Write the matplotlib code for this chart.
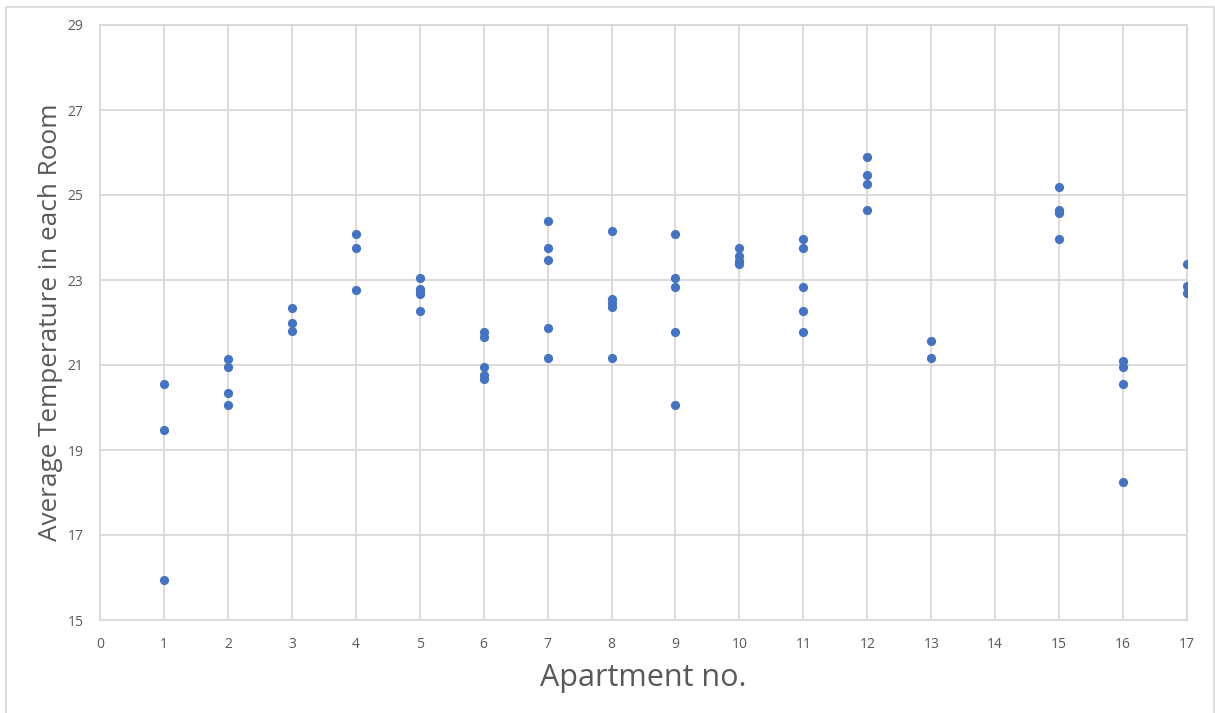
import matplotlib
matplotlib.use("Agg")
import matplotlib.pyplot as plt
from matplotlib.patches import Rectangle

# Data: apartment number -> average room temperatures
apt_1 = [20.55, 19.47, 15.95]
apt_2 = [21.15, 20.95, 20.35, 20.05]
apt_3 = [22.35, 22.0, 21.8]
apt_4 = [24.08, 23.75, 22.76]
apt_5 = [23.05, 22.78, 22.72, 22.68, 22.27]
apt_6 = [21.78, 21.65, 20.96, 20.76, 20.66]
apt_7 = [24.39, 23.75, 23.46, 21.86, 21.17]
apt_8 = [24.16, 22.55, 22.45, 22.36, 21.17]
apt_9 = [24.08, 23.05, 22.84, 21.78, 20.06]
apt_10 = [23.76, 23.57, 23.45, 23.38]
apt_11 = [23.96, 23.75, 22.84, 22.27, 21.78]
apt_12 = [25.89, 25.47, 25.27, 24.65]
apt_13 = [21.57, 21.16]
apt_15 = [25.18, 24.65, 24.57, 23.96]
apt_16 = [21.10, 20.96, 20.55, 18.25]
apt_17 = [23.38, 22.86, 22.69]

apartments = {1: apt_1, 2: apt_2, 3: apt_3, 4: apt_4, 5: apt_5, 6: apt_6,
              7: apt_7, 8: apt_8, 9: apt_9, 10: apt_10, 11: apt_11, 12: apt_12,
              13: apt_13, 15: apt_15, 16: apt_16, 17: apt_17}

x_ticks = list(range(0, 18))
y_ticks = [15, 17, 19, 21, 23, 25, 27, 29]

xs, ys = [], []
for a, temps in apartments.items():
    for t in temps:
        xs.append(a)
        ys.append(t)

W, H = 1215, 713
fig = plt.figure(figsize=(W / 100, H / 100), dpi=100)
plt.rcParams['font.family'] = ['Open Sans', 'DejaVu Sans']

# chart area border
fig.patches.append(Rectangle((6 / W, -0.05), (1214 - 6) / W, 1 - 7 / H + 0.05,
                             transform=fig.transFigure, fill=False,
                             edgecolor='#d9d9d9', linewidth=1.2))

# clipped header text remnant at top-left (cut off in the reference too)
fig.text(2 / W, 1 + 9 / H, "ey (°C)", color='#2F5597', fontsize=13,
         ha='left', va='baseline')

ax = fig.add_axes([100 / W, 1 - 620 / H, (1187 - 100) / W, (620 - 25) / H])
ax.scatter(xs, ys, s=44, color='#4472C4', zorder=3, linewidths=0)

ax.set_xlim(0, 17)
ax.set_ylim(15, 29)
ax.set_xticks(x_ticks)
ax.set_yticks(y_ticks)
ax.grid(True, color='#d9d9d9', linewidth=1.3)
ax.set_axisbelow(True)
for sp in ax.spines.values():
    sp.set_color('#d9d9d9')
    sp.set_linewidth(1.3)
ax.tick_params(length=0, labelsize=10, colors='#595959', pad=12)

ax.set_xlabel("Apartment no.", fontsize=22, color='#595959', labelpad=8)
ax.set_ylabel("Average Temperature in each Room", fontsize=18.8, color='#595959',
              labelpad=3)

fig.savefig("out.png", dpi=100)
